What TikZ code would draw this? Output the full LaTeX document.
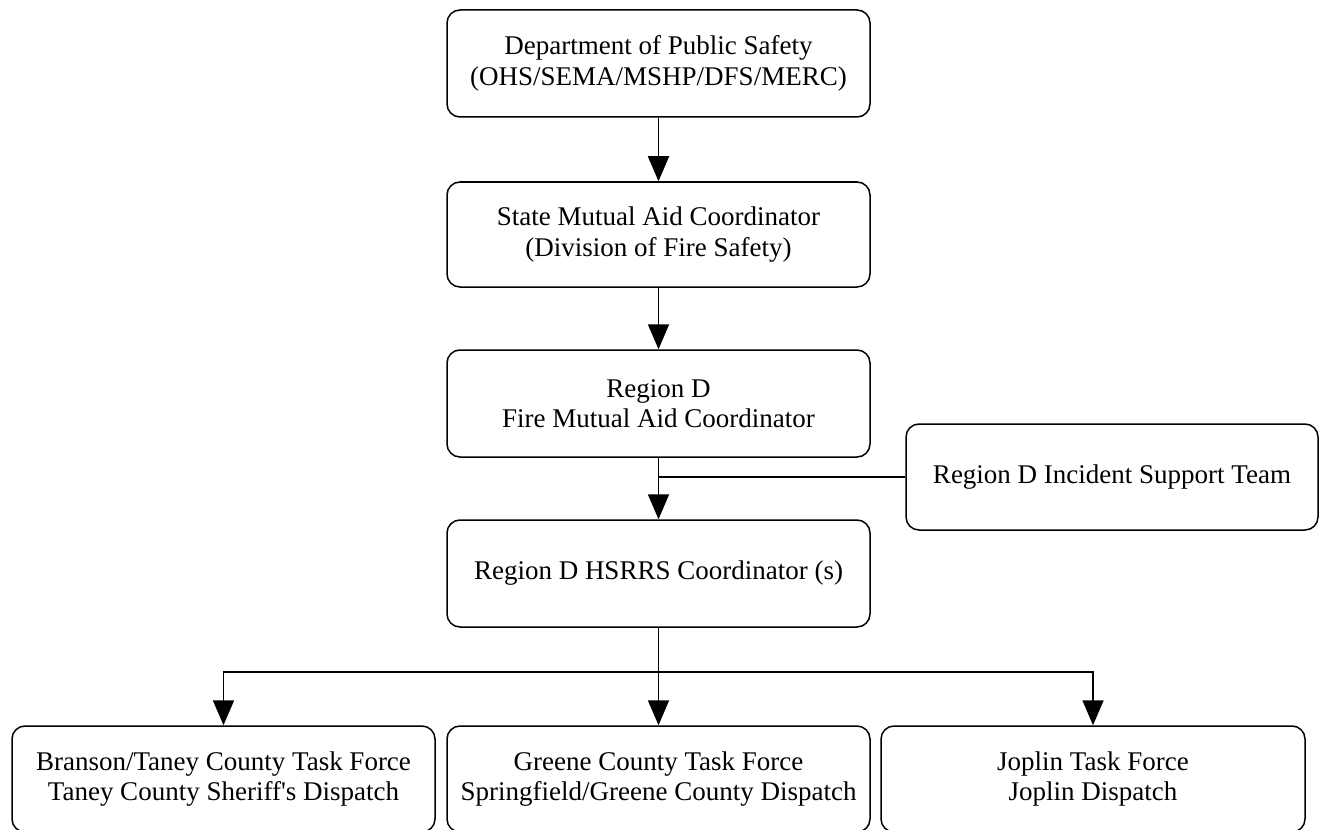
\documentclass[tikz,border=0pt]{standalone}
\usepackage{fontspec}
\setmainfont{Liberation Serif}
\usetikzlibrary{arrows.meta}
\tikzset{
  box/.style={draw=black, line width=1.5pt, rounded corners=13pt, inner sep=0pt,
    minimum width=423pt, minimum height=106pt, align=center,
    font=\fontsize{27}{30.5}\selectfont},
  conn/.style={draw=black, line width=1.8pt},
  arr/.style={conn, -{Triangle[width=21pt,length=25pt]}},
}
\begin{document}
\begin{tikzpicture}[x=1pt,y=1pt]
\useasboundingbox (0,0) rectangle (1321,-829);
\clip (0,0) rectangle (1321,-829);
\fill[white] (0,0) rectangle (1321,-829);

\node[box, minimum height=107pt] (dps) at (658.5,-63.5) {Department of Public Safety\\(OHS/SEMA/MSHP/DFS/MERC)};
\node[box, minimum height=105pt] (smac) at (658.5,-234.5) {State Mutual Aid Coordinator\\(Division of Fire Safety)};
\node[box, minimum height=107pt] (rd) at (658.5,-403.5) {Region D\\Fire Mutual Aid Coordinator};
\node[box, minimum height=107pt] (hsrrs) at (658.5,-573.5) {Region D HSRRS Coordinator (s)};
\node[box, minimum width=412pt] (ist) at (1112,-477) {Region D Incident Support Team};

\node[box] (branson) at (223.5,-779) {Branson/Taney County Task Force\\Taney County Sheriff\textquotesingle s Dispatch};
\node[box] (greene) at (658.5,-779) {Greene County Task Force\\Springfield/Greene County Dispatch};
\node[box, minimum width=424pt] (joplin) at (1093,-779) {Joplin Task Force\\Joplin Dispatch};

\draw[arr] (dps) -- (smac);
\draw[arr] (smac) -- (rd);
\draw[arr] (rd) -- (hsrrs);
\draw[conn] (ist.west) -- (ist.west -| rd.south);

\coordinate (bus) at (658.5,-672);
\draw[arr] (hsrrs) -- (greene);
\draw[arr] (bus) -| (branson.north);
\draw[arr] (bus) -| (joplin.north);
\end{tikzpicture}
\end{document}
